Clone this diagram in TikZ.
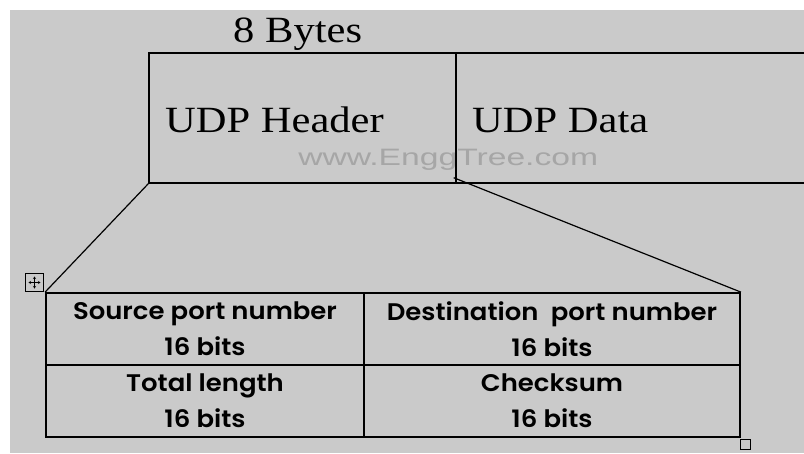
\documentclass[tikz,border=0pt]{standalone}
\usepackage{fontspec}
\setmainfont{Liberation Serif}
\newfontfamily\markfont{Liberation Sans}
\newfontfamily\comicfont{Poppins}[BoldFont={Poppins SemiBold},FakeStretch=1.08]
\usetikzlibrary{arrows.meta,positioning,calc}
\definecolor{paper}{HTML}{CACACA}
\definecolor{mark}{HTML}{A6A6A6}
\tikzset{
  >=Stealth,
  seg/.style={draw,line width=1.4pt,minimum height=130pt,inner sep=0pt},
  title/.style={font=\fontsize{37}{40}\selectfont,xscale=1.15,inner sep=0pt,anchor=base west},
  wmark/.style={font=\markfont\fontsize{23.7}{26}\selectfont,text=mark,xscale=1.42,inner sep=0pt,anchor=base west},
  cell/.style={draw,line width=1.8pt,minimum height=72pt,align=center,inner sep=0pt,font=\comicfont\bfseries\fontsize{24}{36}\selectfont},
  link/.style={line width=1.2pt},
  handle/.style={draw,line width=0.9pt,inner sep=0pt}
}
\begin{document}
\begin{tikzpicture}[x=1pt,y=-1pt]
\useasboundingbox (0,0) rectangle (804,453);
\clip (0,0) rectangle (804,453);
\fill[white] (0,0) rectangle (804,453);
\fill[paper] (10,10) rectangle (804,453);
% datagram
\node[wmark](wm)at(298,165){www.EnggTree.com};
\node[seg,minimum width=307pt](hdr)at(302.5,118){};
\node[seg,minimum width=374pt](dat)at(643,118){};
\node[title](bytes)at(233,42){8 Bytes};
\node[title](hdrtxt)at(165,132){UDP Header};
\node[title](dattxt)at(472,132){UDP Data};
% header fields
\node[cell,minimum width=318pt](src)at(205,329){Source port number\\16 bits};
\node[cell,minimum width=376pt](dst)at(552,329){Destination\ \ port number\\16 bits};
\node[cell,minimum width=318pt](len)at(205,401){Total length\\16 bits};
\node[cell,minimum width=376pt](chk)at(552,401){Checksum\\16 bits};
% zoom lines
\coordinate(tap)at($(hdr.south east)+(-3,-6)$);
\draw[link](hdr.south west)--(src.north west);
\draw[link](tap)--(dst.north east);
% table handles
\node[handle,minimum size=18pt](grip)at(34.5,282.5){};
\draw[<->,line width=0.6pt,>={Stealth[length=2.5pt,width=3pt]}]($(grip.center)+(-6,0)$)--($(grip.center)+(6,0)$);
\draw[<->,line width=0.6pt,>={Stealth[length=2.5pt,width=3pt]}]($(grip.center)+(0,-6)$)--($(grip.center)+(0,6)$);
\node[handle,minimum size=10pt](resize)at(745,444){};
\end{tikzpicture}
\end{document}
